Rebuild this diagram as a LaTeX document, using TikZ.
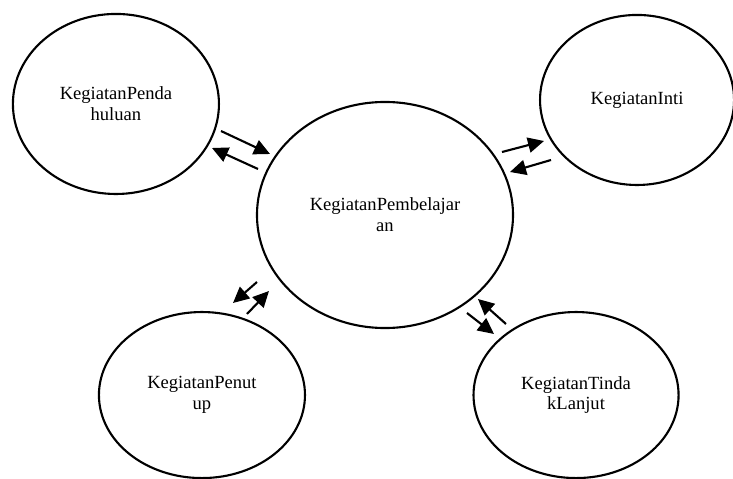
\documentclass[tikz,border=0pt]{standalone}
\usepackage{fontspec}
\setmainfont{Liberation Serif}
\usetikzlibrary{shapes.geometric,positioning,arrows.meta}

\tikzset{
  kegiatan/.style={draw, ellipse, line width=1.5pt, inner sep=0pt, align=center,
    font=\fontsize{13.2}{14.8}\selectfont},
  panah/.style={-{Triangle[length=0.4cm,width=0.38cm]}, line width=1.5pt}
}

\begin{document}
\begin{tikzpicture}[x=0.025cm, y=-0.025cm]
  \useasboundingbox (0,0) rectangle (733,479);
  \node [kegiatan, minimum width=6.4cm, minimum height=5.65cm] (pusat) at (385,215) {KegiatanPembelajar\\an};
  \node [kegiatan, minimum width=5.15cm, minimum height=4.5cm, on grid, above left=2.775cm and 6.725cm of pusat] (pendahuluan) {KegiatanPenda\\huluan};
  \node [kegiatan, minimum width=4.85cm, minimum height=4.25cm, on grid, above right=2.875cm and 6.3cm of pusat] (inti) {KegiatanInti};
  \node [kegiatan, minimum width=5.15cm, minimum height=4.15cm, on grid, below left=4.5cm and 4.575cm of pusat] (penutup) {KegiatanPenut\\up};
  \node [kegiatan, minimum width=5.125cm, minimum height=4.15cm, on grid, below right=4.5cm and 4.775cm of pusat] (tindak) {KegiatanTinda\\kLanjut};

  % ujung panah
  \coordinate (pd1) at (221,131); \coordinate (pd2) at (270,154);
  \coordinate (pd3) at (258,169); \coordinate (pd4) at (212,148);
  \coordinate (in1) at (502,152); \coordinate (in2) at (544,141);
  \coordinate (in3) at (551,160); \coordinate (in4) at (510,172);
  \coordinate (pt1) at (257,282); \coordinate (pt2) at (233,303);
  \coordinate (pt3) at (247,314); \coordinate (pt4) at (269,291);
  \coordinate (tl1) at (506,324); \coordinate (tl2) at (478,299);
  \coordinate (tl3) at (467,313); \coordinate (tl4) at (494,334);

  \draw [panah] (pd1) -- (pd2);
  \draw [panah] (pd3) -- (pd4);
  \draw [panah] (in1) -- (in2);
  \draw [panah] (in3) -- (in4);
  \draw [panah] (pt1) -- (pt2);
  \draw [panah] (pt3) -- (pt4);
  \draw [panah] (tl1) -- (tl2);
  \draw [panah] (tl3) -- (tl4);
\end{tikzpicture}
\end{document}
